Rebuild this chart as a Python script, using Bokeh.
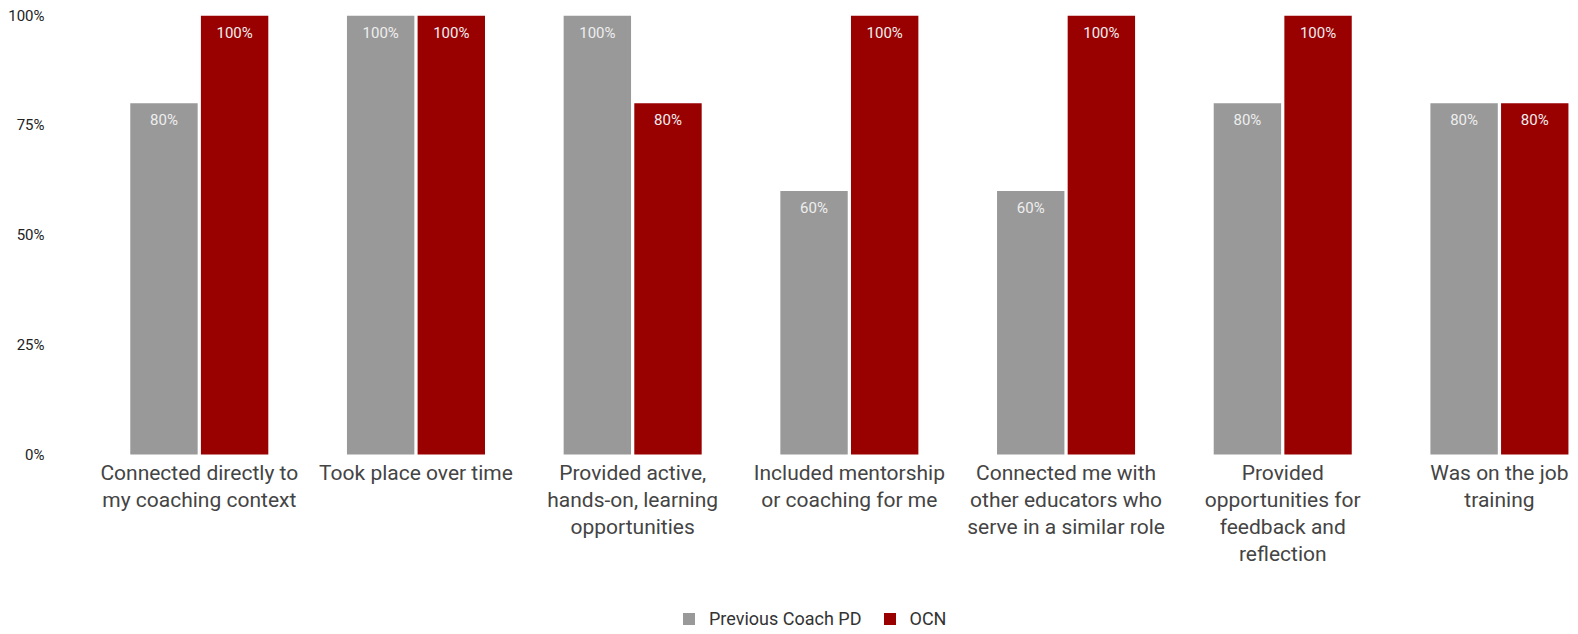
from bokeh.plotting import figure
from bokeh.models import ColumnDataSource, Range1d, FixedTicker, Legend, LegendItem
from bokeh.core.properties import value
from bokeh.embed import file_html
from bokeh.resources import INLINE

categories = [
    "Connected directly to\nmy coaching context",
    "Took place over time",
    "Provided active,\nhands-on, learning\nopportunities",
    "Included mentorship\nor coaching for me",
    "Connected me with\nother educators who\nserve in a similar role",
    "Provided\nopportunities for\nfeedback and\nreflection",
    "Was on the job\ntraining",
]
previous_pd = [0.8, 1.0, 1.0, 0.6, 0.6, 0.8, 0.8]
ocn = [1.0, 1.0, 0.8, 1.0, 1.0, 1.0, 0.8]
series_names = ["Previous Coach PD", "OCN"]
y_ticks = [0, 0.25, 0.5, 0.75, 1.0]
y_tick_labels = ["0%", "25%", "50%", "75%", "100%"]

GRAY = "#999999"
RED = "#990000"
FONT = "Roboto"
BW = 0.311
OFF = 0.163

idx = list(range(len(categories)))
src_a = ColumnDataSource(dict(x=[i - OFF for i in idx], top=previous_pd,
                              lab=[f"{round(v*100)}%" for v in previous_pd]))
src_b = ColumnDataSource(dict(x=[i + OFF for i in idx], top=ocn,
                              lab=[f"{round(v*100)}%" for v in ocn]))
src_c = ColumnDataSource(dict(x=idx, y=[0] * len(idx), lab=categories))

p = figure(width=1570, height=630, output_backend="svg", toolbar_location=None,
           x_range=Range1d(-0.6405, 6.328), y_range=Range1d(-0.4009, 1.0),
           x_axis_location=None,
           min_border_left=60, min_border_right=0, min_border_top=15,
           min_border_bottom=0)
p.outline_line_color = None
p.grid.visible = False

ra = p.vbar(x="x", top="top", width=BW, source=src_a, fill_color=GRAY, line_color=None)
rb = p.vbar(x="x", top="top", width=BW, source=src_b, fill_color=RED, line_color=None)

for s in (src_a, src_b):
    p.text(x="x", y="top", text="lab", source=s, y_offset=8,
           text_align="center", text_baseline="top", text_color="#eeeeee",
           text_font=value(FONT), text_font_size="15px")

# category labels under the bars
p.text(x="x", y="y", text="lab", source=src_c, y_offset=6,
       text_align="center", text_baseline="top", text_color="#444444",
       text_font=value(FONT), text_font_size="21px", text_line_height=1.13)

p.yaxis.ticker = FixedTicker(ticks=y_ticks)
p.yaxis.major_label_overrides = {t: l for t, l in zip(y_ticks, y_tick_labels)}
p.yaxis.axis_line_color = None
p.yaxis.major_tick_line_color = None
p.yaxis.minor_tick_line_color = None
p.yaxis.major_label_text_font = FONT
p.yaxis.major_label_text_font_size = "15px"
p.yaxis.major_label_text_color = "#222222"
p.yaxis.major_label_standoff = 10

legend = Legend(items=[LegendItem(label=series_names[0], renderers=[ra]),
                       LegendItem(label=series_names[1], renderers=[rb])],
                orientation="horizontal", location=(621, 1),
                label_text_font=FONT, label_text_font_size="18px",
                label_text_color="#333333", glyph_width=15, glyph_height=15,
                label_standoff=13, spacing=20,
                border_line_color=None, background_fill_alpha=0,
                margin=0, padding=0)
p.add_layout(legend, "center")

open("out.html", "w").write(file_html(p, INLINE))
